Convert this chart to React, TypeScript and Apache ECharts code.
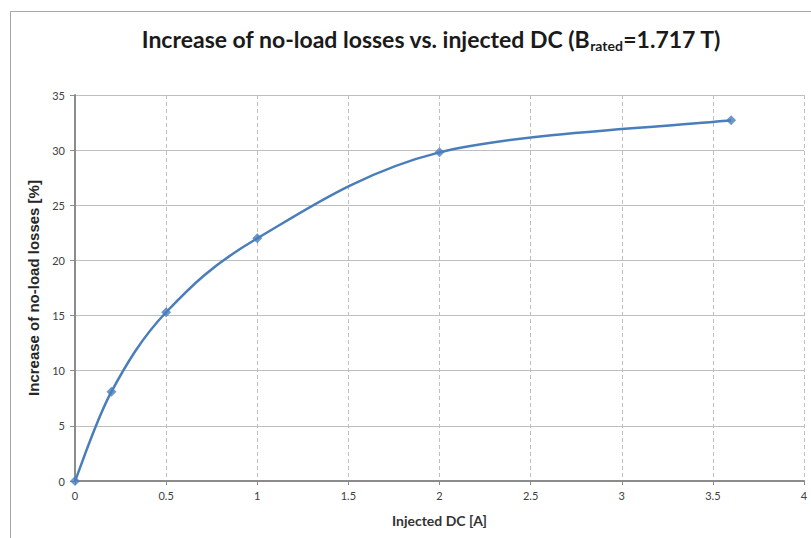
import React, { useEffect, useRef } from "react";
import * as echarts from "echarts";

const xValues = [0, 0.2, 0.5, 1, 2, 3.6];
const yValues = [0, 8.1, 15.3, 22.0, 29.8, 32.7];
const xTicks = [0, 0.5, 1, 1.5, 2, 2.5, 3, 3.5, 4];
const yTicks = [0, 5, 10, 15, 20, 25, 30, 35];

const LINE_COLOR = "#4a7ebb";

export default function App() {
  const ref = useRef<HTMLDivElement>(null);
  useEffect(() => {
    if (!ref.current) return;
    const chart = echarts.init(ref.current, null, { renderer: "svg" });
    const font = "Lato, 'Open Sans', sans-serif";
    const points = xValues.map((x, i) => [x, yValues[i]]);
    chart.setOption({
      animation: false,
      backgroundColor: "#ffffff",
      title: {
        text: "{t|Increase of no-load losses vs. injected DC (B}{s|rated}{t|=1.717 T)}",
        left: 426,
        textAlign: "center",
        top: 21,
        textStyle: {
          rich: {
            t: { fontFamily: font, fontWeight: "bold", fontSize: 23, color: "#1a1a1a" },
            s: { fontFamily: font, fontWeight: "bold", fontSize: 14, color: "#1a1a1a", verticalAlign: "bottom", padding: [12, 0, 0, 0] },
          },
        },
      },
      graphic: [
        {
          type: "rect",
          shape: { x: 10.5, y: 11.5, width: 900, height: 600 },
          style: { fill: "none", stroke: "#a6a6a6", lineWidth: 1 },
          silent: true,
        },
      ],
      grid: { left: 75, right: 7, top: 95, bottom: 57, containLabel: false },
      xAxis: {
        type: "value",
        min: 0,
        max: 4,
        interval: 0.5,
        name: "Injected DC [A]",
        nameLocation: "middle",
        nameGap: 32,
        nameTextStyle: { fontFamily: font, fontWeight: "bold", fontSize: 14, color: "#333" },
        axisLine: { onZero: false, lineStyle: { color: "#8c8c8c", width: 2 } },
        axisTick: { show: true, length: 4, lineStyle: { color: "#8c8c8c" } },
        axisLabel: {
          fontFamily: font,
          fontSize: 11,
          color: "#404040",
          margin: 9,
          formatter: (v: number) => (xTicks.includes(v) ? String(v) : ""),
        },
        splitLine: { show: true, lineStyle: { color: "#bfbfbf", type: [4, 3], width: 1 } },
      },
      yAxis: {
        type: "value",
        min: 0,
        max: 35,
        interval: 5,
        name: "Increase of no-load losses [%]",
        nameLocation: "middle",
        nameGap: 33,
        nameTextStyle: { fontFamily: "'Liberation Sans', Arial, sans-serif", fontWeight: "bold", fontSize: 15, color: "#262626" },
        axisLine: { show: true, lineStyle: { color: "#8c8c8c", width: 2 } },
        axisTick: { show: true, length: 5, lineStyle: { color: "#8c8c8c" } },
        axisLabel: {
          fontFamily: font,
          fontSize: 11,
          color: "#404040",
          margin: 10,
          formatter: (v: number) => (yTicks.includes(v) ? String(v) : ""),
        },
        splitLine: { show: true, lineStyle: { color: "#bfbfbf", width: 1 } },
      },
      series: [
        {
          type: "custom",
          data: points,
          silent: true,
          renderItem: (params: any, api: any) => {
            if (params.dataIndex !== 0) return null;
            const px = points.map((p) => api.coord(p));
            const n = px.length;
            let d = `M${px[0][0]},${px[0][1]}`;
            for (let i = 0; i < n - 1; i++) {
              const p0 = px[Math.max(0, i - 1)];
              const p1 = px[i];
              const p2 = px[i + 1];
              const p3 = px[Math.min(n - 1, i + 2)];
              const k = 1 / 6;
              const c1x = p1[0] + (p2[0] - p0[0]) * k;
              const c1y = p1[1] + (p2[1] - p0[1]) * k;
              const c2x = p2[0] - (p3[0] - p1[0]) * k;
              const c2y = p2[1] - (p3[1] - p1[1]) * k;
              d += ` C${c1x},${c1y} ${c2x},${c2y} ${p2[0]},${p2[1]}`;
            }
            return {
              type: "path",
              shape: { pathData: d },
              style: { fill: "none", stroke: LINE_COLOR, lineWidth: 2.5 },
            };
          },
          z: 2,
        },
        {
          type: "scatter",
          data: points,
          symbol: "diamond",
          symbolSize: 10,
          itemStyle: { color: LINE_COLOR },
          z: 3,
        },
      ],
    });
    return () => chart.dispose();
  }, []);
  return (
    <div
      ref={ref}
      style={{ position: "absolute", left: 0, top: 0, width: 811, height: 538 }}
    />
  );
}
